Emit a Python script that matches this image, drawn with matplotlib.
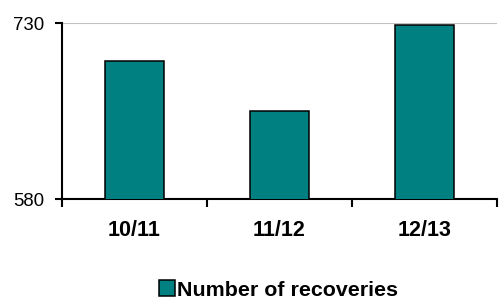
import matplotlib
matplotlib.use("Agg")
import matplotlib.pyplot as plt
from matplotlib.patches import Patch

plt.rcParams['font.family'] = ['Liberation Sans', 'DejaVu Sans']

# data
seasons = ["10/11", "11/12", "12/13"]
recoveries = [698, 655, 728]
y_ticks = [580, 730]

teal = "#008080"

fig = plt.figure(figsize=(4.99, 3.0), dpi=100)
ax = fig.add_axes([62/499, 1 - 199/300, (497 - 62)/499, (199 - 23)/300])

x = list(range(len(seasons)))
ax.bar(x, recoveries, width=0.405, color=teal, edgecolor="black", linewidth=1.1, zorder=3)

ax.set_xlim(-0.5, len(seasons) - 0.5)
ax.set_ylim(y_ticks[0], y_ticks[-1])
ax.set_yticks(y_ticks)
ax.set_yticklabels([str(v) for v in y_ticks], fontsize=13.4)
ax.yaxis.grid(True, color="#c0c0c0", linewidth=1.5, zorder=0)
ax.tick_params(axis="y", direction="out", length=5, width=1.5, pad=8)

ax.set_xticks(x)
ax.set_xticklabels(seasons, fontsize=15.5, fontweight="bold")
ax.set_xticks([i - 0.5 for i in range(len(seasons) + 1)], minor=True)
ax.tick_params(axis="x", which="major", length=0, pad=15)
ax.tick_params(axis="x", which="minor", direction="out", length=6, width=1.5)

for s in ["top", "right"]:
    ax.spines[s].set_visible(False)
for s in ["left", "bottom"]:
    ax.spines[s].set_linewidth(1.5)
ax.spines["left"].set_zorder(4)

handle = Patch(facecolor=teal, edgecolor="black", linewidth=1.1)
fig.legend([handle], ["Number of recoveries"], loc="center left",
           bbox_to_anchor=(159/499, 1 - 290/300), frameon=False,
           prop={"size": 15.4, "weight": "bold"},
           handlelength=0.75, handleheight=0.75, handletextpad=0.1,
           borderpad=0, borderaxespad=0)

fig.savefig("out.png", dpi=100)
